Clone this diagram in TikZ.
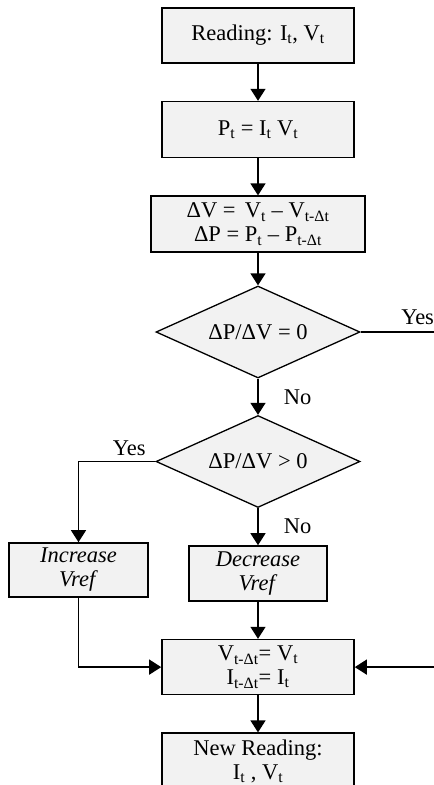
\documentclass[tikz,border=0pt]{standalone}
\usepackage{fontspec}
\setmainfont{Liberation Serif}
\usetikzlibrary{shapes.geometric, arrows.meta, positioning}
\definecolor{boxgray}{RGB}{242,242,242}
\newcommand{\sbs}[1]{\textsubscript{#1}}
\tikzstyle{block} = [rectangle, minimum width=192pt, minimum height=56pt, align=center, draw=black, line width=1.6pt, fill=boxgray, inner sep=1pt]
\tikzstyle{decision} = [diamond, aspect=2.2, minimum width=204pt, minimum height=92pt, inner sep=0pt, align=center, draw=black, line width=1.3pt, fill=boxgray]
\tikzstyle{arrow} = [line width=1.3pt,-{Triangle[length=12pt,width=15pt]}]
\tikzstyle{line} = [line width=1.3pt]

\begin{document}
\begin{tikzpicture}[x=1pt, y=-1pt, node distance=37pt, every node/.style={font=\fontsize{22.5}{24}\selectfont}]
  \clip (0,0) rectangle (434,785);
  % Main column
  \node[block, minimum height=55pt] (read) at (258,35.5) {Reading: I\sbs{t}, V\sbs{t}};
  \node[block, below=of read] (power) {P\sbs{t} = I\sbs{t} V\sbs{t}};
  \node[block, minimum width=214pt, below=of power] (delta) {ΔV =\, V\sbs{t} – V\sbs{t-Δt}\\ΔP = P\sbs{t} – P\sbs{t-Δt}};
  \node[decision] (zero) at (258,332) {ΔP/ΔV = 0};
  \node[decision] (sign) at (258,461.5) {ΔP/ΔV > 0};
  \node[block, minimum width=138pt, minimum height=55pt] (dec) at (258,573.5) {\textit{Decrease}\\\textit{Vref}};
  \node[block, minimum width=139pt, minimum height=54pt] (inc) at (78.5,570) {\textit{Increase}\\\textit{Vref}};
  \node[block, minimum height=55pt, below=of dec] (update) {V\sbs{t-Δt}= V\sbs{t}\\I\sbs{t-Δt}= I\sbs{t}};
  \node[block, below=of update] (next) {New Reading:\\I\sbs{t} , V\sbs{t}};
  % Loose ends at the right edge
  \coordinate[right=74pt of zero.east] (yesend);
  \coordinate[right=79pt of update.east] (backin);

  \draw[arrow] (read) -- (power);
  \draw[arrow] (power) -- (delta);
  \draw[arrow] (delta) -- (zero);
  \draw[line] (zero.east) -- node[pos=1, anchor=south east, inner xsep=0pt, inner ysep=7pt]{Yes} (yesend);
  \draw[arrow] (zero) -- node[right=22pt]{No} (sign);
  \draw[arrow] (sign) -- node[right=22pt]{No} (dec);
  \draw[arrow] (sign.west) -| node[pos=0.17, above=2pt]{Yes} (inc);
  \draw[arrow] (dec) -- (update);
  \draw[arrow] (inc) |- (update);
  \draw[arrow] (backin) -- (update);
  \draw[arrow] (update) -- (next);
\end{tikzpicture}
\end{document}
